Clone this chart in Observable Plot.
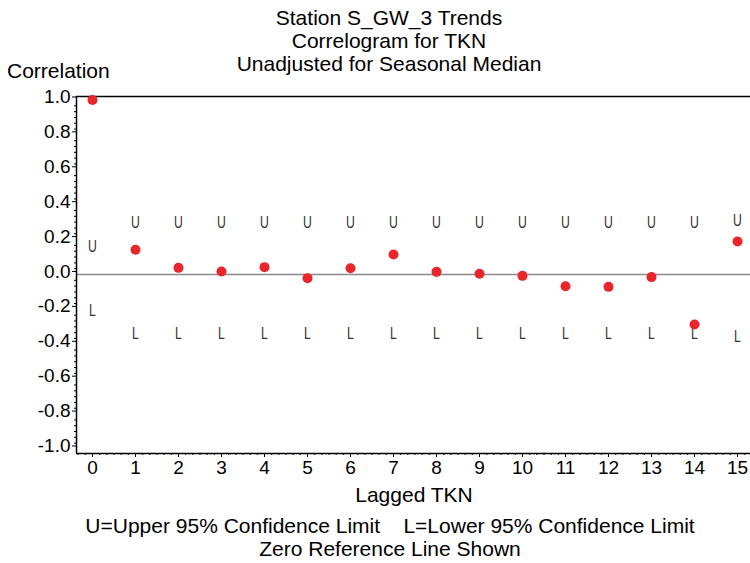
<!DOCTYPE html>
<html><head><meta charset="utf-8">
<script src="https://cdn.jsdelivr.net/npm/d3@7"></script>
<script src="https://cdn.jsdelivr.net/npm/@observablehq/plot@0.6"></script>
<style>
html,body{margin:0;padding:0;background:#fff;overflow:hidden;}
#wrap{position:relative;width:750px;height:563px;font-family:"Liberation Sans",Arial,sans-serif;color:#000;}
#wrap svg{position:absolute;left:0;top:0;}
.t{position:absolute;white-space:pre;font-size:21px;line-height:23px;transform:translateX(-50%);text-align:center;}
</style></head><body>
<div id="wrap">
  <div class="t" style="left:389px;top:6px">Station S_GW_3 Trends
Correlogram for TKN
Unadjusted for Seasonal Median</div>
  <div class="t" style="left:7px;top:59px;transform:none;">Correlation</div>
  <div class="t" style="left:414px;top:483px">Lagged TKN</div>
  <div class="t" style="left:390px;top:514px">U=Upper 95% Confidence Limit    L=Lower 95% Confidence Limit
Zero Reference Line Shown</div>
</div>
<script>
// ---- data ----
const lags  = [0, 1, 2, 3, 4, 5, 6, 7, 8, 9, 10, 11, 12, 13, 14, 15];
const corr  = [1.0, 0.142, 0.038, 0.017, 0.042, -0.021, 0.036, 0.115, 0.015, 0.004, -0.008, -0.067, -0.071, -0.015, -0.287, 0.189];
const upper = [0.183, 0.318, 0.318, 0.318, 0.318, 0.318, 0.318, 0.318, 0.318, 0.318, 0.318, 0.318, 0.318, 0.318, 0.318, 0.331];
const lower = [-0.183, -0.318, -0.318, -0.318, -0.318, -0.318, -0.318, -0.318, -0.318, -0.318, -0.318, -0.318, -0.318, -0.318, -0.318, -0.331];
const yTicks = [-1.0, -0.8, -0.6, -0.4, -0.2, 0.0, 0.2, 0.4, 0.6, 0.8, 1.0];
const xTicks = lags;

const rows = lags.map((lag, i) => ({lag, r: corr[i], u: upper[i], l: lower[i]}));

const xDom = [-0.372, 15.302];
const yDom = [-1.026, 1.020];
const xMinor = d3.range(-2, 15 * 6 + 2).map(k => k / 6).filter(v => Math.abs(v - Math.round(v)) > 1e-6 && v >= xDom[0] && v <= xDom[1]);
const yMinor = d3.range(-30, 31).map(k => k / 30).filter(v => Math.abs(v * 5 - Math.round(v * 5)) > 1e-6);

const font = "'Liberation Sans', Arial, sans-serif";

const chart = Plot.plot({
  width: 750,
  height: 563,
  marginLeft: 76,
  marginRight: 0,
  marginTop: 96,
  marginBottom: 110,
  style: {fontFamily: font, fontSize: "19px", background: "transparent", color: "#000"},
  x: {domain: xDom, label: null},
  y: {domain: yDom, label: null},
  marks: [
    Plot.ruleY([0], {stroke: "#8a8a8a", strokeWidth: 1.5}),
    Plot.ruleY([yDom[1]], {stroke: "#000", strokeWidth: 1.5}),
    Plot.ruleY([yDom[0]], {stroke: "#000", strokeWidth: 1.5}),
    Plot.ruleX([xDom[0]], {stroke: "#000", strokeWidth: 1.5}),
    Plot.axisY(yTicks, {tickSize: 4, tickPadding: 2, fontSize: 19, dy: -3, tickFormat: d => d.toFixed(1), label: null}),
    Plot.axisY(yMinor, {tickSize: 2, text: null, label: null}),
    Plot.axisX(xTicks, {tickSize: 4, tickPadding: 3, fontSize: 19, tickFormat: d => String(d), label: null}),
    Plot.axisX(xMinor, {tickSize: 2, text: null, label: null}),
    Plot.text(rows, {x: "lag", y: "u", text: () => "U", fontFamily: font, fontSize: 17, fill: "#333", dy: 4, className: "ulmark"}),
    Plot.text(rows, {x: "lag", y: "l", text: () => "L", fontFamily: font, fontSize: 17, fill: "#333", dy: 4, className: "ulmark"}),
    Plot.dot(rows, {x: "lag", y: "r", r: 5, fill: "#e8262b", stroke: "none"})
  ]
});
// narrow the U / L glyphs horizontally, like the reference's condensed symbol font
d3.select(chart).selectAll(".ulmark text").each(function () {
  const t = this.getAttribute("transform");
  if (t) {
    this.setAttribute("transform", t + " scale(0.72,1)");
  } else {
    const x = +this.getAttribute("x") || 0, y = +this.getAttribute("y") || 0;
    this.removeAttribute("x"); this.removeAttribute("y");
    this.setAttribute("transform", `translate(${x},${y}) scale(0.72,1)`);
  }
});
document.getElementById("wrap").prepend(chart);
</script>
</body></html>
